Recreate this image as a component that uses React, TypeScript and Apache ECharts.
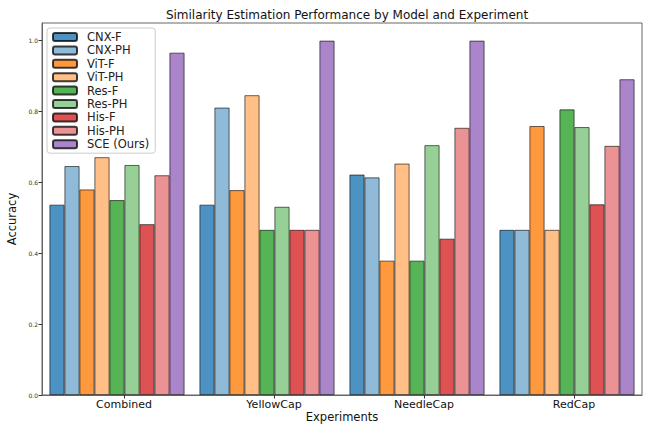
import React, { useEffect, useRef } from "react";
import * as echarts from "echarts";

const experiments = ["Combined", "YellowCap", "NeedleCap", "RedCap"];
const seriesNames = ["CNX-F", "CNX-PH", "ViT-F", "ViT-PH", "Res-F", "Res-PH", "His-F", "His-PH", "SCE (Ours)"];
const cnxF = [0.537, 0.537, 0.622, 0.466];
const cnxPH = [0.646, 0.811, 0.614, 0.466];
const vitF = [0.580, 0.578, 0.379, 0.759];
const vitPH = [0.671, 0.846, 0.653, 0.466];
const resF = [0.550, 0.466, 0.379, 0.806];
const resPH = [0.649, 0.531, 0.705, 0.756];
const hisF = [0.482, 0.466, 0.441, 0.538];
const hisPH = [0.620, 0.466, 0.754, 0.703];
const sce = [0.966, 1.0, 1.0, 0.891];
const yTicks = [0, 0.2, 0.4, 0.6, 0.8, 1.0];

const seriesValues = [cnxF, cnxPH, vitF, vitPH, resF, resPH, hisF, hisPH, sce];
const colors = ["#4C92C3", "#8FBBD9", "#FF993E", "#FFBF86", "#56B356", "#96D096", "#DE5253", "#EB9394", "#AA85CA"];

const FONT = "DejaVu Sans";

export default function App() {
  const ref = useRef<HTMLDivElement>(null);
  useEffect(() => {
    document.body.style.margin = "0";
    const chart = echarts.init(ref.current!, null, { renderer: "svg" });
    chart.setOption({
      animation: false,
      backgroundColor: "#ffffff",
      textStyle: { fontFamily: FONT },
      title: {
        text: "Similarity Estimation Performance by Model and Experiment",
        left: 342,
        textAlign: "center",
        top: 4,
        textStyle: { fontFamily: FONT, fontSize: 12, fontWeight: "normal", color: "#111" },
      },
      legend: {
        orient: "vertical",
        left: 47,
        top: 28,
        padding: [3, 6, 3, 5],
        itemWidth: 24,
        itemHeight: 8,
        itemGap: 1.4,
        backgroundColor: "rgba(255,255,255,0.8)",
        borderColor: "#cccccc",
        borderWidth: 1,
        borderRadius: 3,
        data: seriesNames,
        textStyle: { fontFamily: FONT, fontSize: 11.5, color: "#222", lineHeight: 12, padding: [0, 0, 0, 5] },
      },
      grid: [
        { left: 42, right: 7, top: 23, bottom: 29, show: true, borderColor: "#666", borderWidth: 1, outerBoundsMode: "none", containLabel: false },
        { left: 49, right: 0, top: 23, bottom: 29, show: false, outerBoundsMode: "none", containLabel: false },
      ],
      xAxis: [
        {
          type: "category",
          gridIndex: 0,
          data: experiments,
          axisLine: { lineStyle: { color: "#666", width: 1 } },
          axisTick: { show: false },
          axisLabel: { show: false },
          name: "Experiments",
          nameLocation: "middle",
          nameGap: 16,
          nameTextStyle: { fontFamily: FONT, fontSize: 11.5, color: "#111" },
        },
        {
          type: "category",
          gridIndex: 1,
          data: experiments,
          axisLine: { show: false },
          axisTick: { show: true, alignWithLabel: true, length: 3.5, lineStyle: { color: "#333" } },
          axisLabel: { fontFamily: FONT, fontSize: 11, color: "#111", margin: 4 },
        },
      ],
      yAxis: [
        {
          type: "value",
          gridIndex: 0,
          min: 0,
          max: 1.05,
          interval: 0.2,
          splitLine: { show: false },
          axisLine: { show: true, lineStyle: { color: "#666", width: 1 } },
          axisTick: { show: true, length: 3.5, lineStyle: { color: "#333" } },
          axisLabel: {
            fontFamily: FONT,
            fontSize: 6,
            color: "#333",
            margin: 4,
            showMaxLabel: false,
            formatter: (v: number) => (yTicks.some((t) => Math.abs(t - v) < 1e-6) ? v.toFixed(1) : ""),
          },
          name: "Accuracy",
          nameLocation: "middle",
          nameGap: 21,
          nameTextStyle: { fontFamily: FONT, fontSize: 11.5, color: "#111", padding: [0, 20, 0, 0] },
        },
        { type: "value", gridIndex: 1, show: false, min: 0, max: 1.05 },
      ],
      series: seriesNames.map((name, i) => ({
        name,
        type: "bar",
        xAxisIndex: 0,
        yAxisIndex: 0,
        data: seriesValues[i],
        barGap: "0%",
        barCategoryGap: "10%",
        itemStyle: { color: colors[i], borderColor: "rgba(0,0,0,0.75)", borderWidth: 0.8 },
      })),
    });
    return () => chart.dispose();
  }, []);
  return <div ref={ref} style={{ position: "fixed", left: 0, top: 0, width: 649, height: 424 }} />;
}
